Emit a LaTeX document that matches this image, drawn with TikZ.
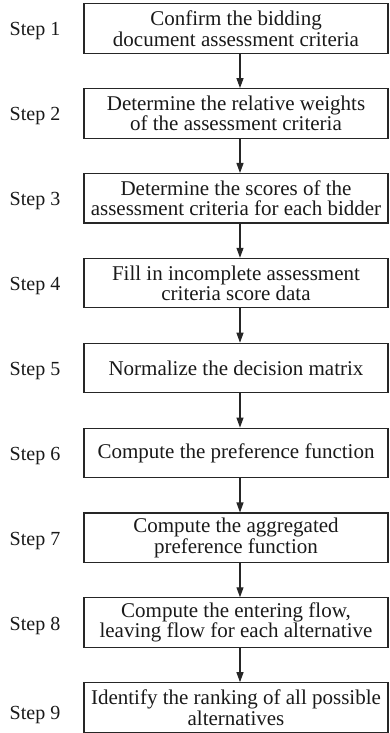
\documentclass[tikz,border=0pt]{standalone}
\usepackage{fontspec}
\setmainfont{Liberation Serif}
\usetikzlibrary{arrows.meta}
\begin{document}
\begin{tikzpicture}[x=1pt,y=1pt,
  stepbox/.style={draw=black!85, line width=1.1pt, minimum width=304pt, minimum height=49.5pt,
    inner sep=0pt, align=center, font=\fontsize{21}{20.5}\selectfont, text=black!90},
  steplabel/.style={font=\fontsize{20}{21}\selectfont, text=black!90, inner sep=0pt},
  flow/.style={draw=black!85, line width=1.1pt, -{Triangle[length=10pt,width=7pt]}}]
\useasboundingbox (0,0) rectangle (389,733);
\coordinate (ax) at (240,0);
\node[stepbox] (b1) at (236,{733-28.5}) {Confirm the bidding\\document assessment criteria};
\node[stepbox] (b2) at (236,{733-113.4}) {Determine the relative weights\\of the assessment criteria};
\node[stepbox] (b3) at (236,{733-198.3}) {Determine the scores of the\\assessment criteria for each bidder};
\node[stepbox] (b4) at (236,{733-283.1}) {Fill in incomplete assessment\\criteria score data};
\node[stepbox] (b5) at (236,{733-368.0}) {Normalize the decision matrix};
\node[stepbox] (b6) at (236,{733-452.9}) {Compute the preference function};
\node[stepbox] (b7) at (236,{733-537.8}) {Compute the aggregated\\preference function};
\node[stepbox] (b8) at (236,{733-622.6}) {Compute the entering flow,\\leaving flow for each alternative};
\node[stepbox] (b9) at (236,{733-707.5}) {Identify the ranking of all possible\\alternatives};
\foreach \i/\dy in {1/3,2/3,3/3,4/3,5/3,6/3,7/3,8/3,9/8} {
  \node[steplabel] (s\i) at ([yshift=-\dy pt]b\i.center -| 35,0) {Step \i};
}
\foreach \a/\b in {b1/b2,b2/b3,b3/b4,b4/b5,b5/b6,b6/b7,b7/b8,b8/b9} {
  \draw[flow] (\a.south -| ax) -- (\b.north -| ax);
}
\end{tikzpicture}
\end{document}
